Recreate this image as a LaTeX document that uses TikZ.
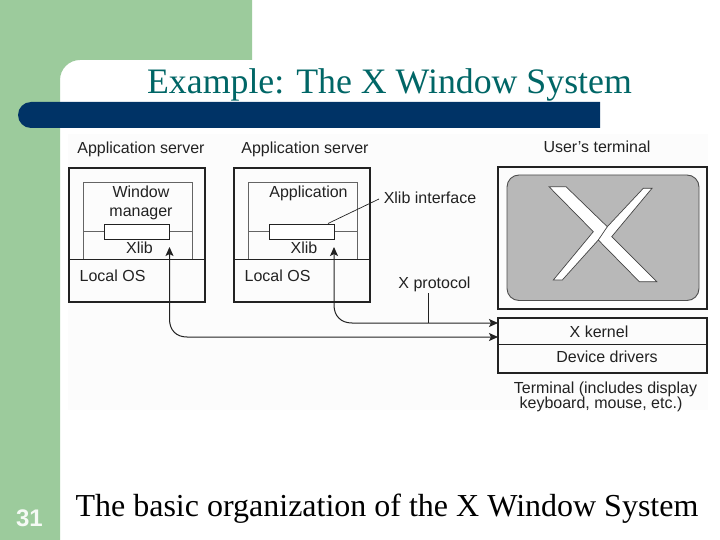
\documentclass[tikz,border=0pt]{standalone}
\usepackage{fontspec}
\setmainfont{Liberation Serif}
\setsansfont{Liberation Sans}
\usetikzlibrary{arrows.meta}
\definecolor{sidegreen}{HTML}{9CCB9C}
\definecolor{barblue}{HTML}{003366}
\definecolor{titleteal}{HTML}{006666}
\definecolor{screengrey}{HTML}{B8B8B8}
\definecolor{paper}{HTML}{FCFCFC}
\definecolor{ink}{HTML}{222222}
\tikzset{
  x=1pt,y=-1pt,
  lab/.style={font=\sffamily\fontsize{16}{15}\selectfont,text=ink,inner sep=0pt,anchor=base},
  outer/.style={draw=ink,line width=2pt},
  thin part/.style={draw=ink!70,line width=0.7pt},
  mid part/.style={draw=ink,line width=1pt},
  xbox/.style={draw=ink,line width=0.9pt,fill=white,minimum width=65pt,minimum height=14.5pt,inner sep=0pt},
  head/.tip={Stealth[length=9pt,width=8pt,inset=2pt]},
  flow/.style={draw=ink,line width=1pt,head-head},
  lead/.style={draw=ink,line width=0.7pt},
}
\begin{document}
\begin{tikzpicture}
\useasboundingbox (0,0) rectangle (720,540);
\fill[white] (0,0) rectangle (720,540);
\fill[sidegreen] (0,0) -- (252,0) -- (252,60) -- (80,60) arc[start angle=270,end angle=180,radius=20] -- (60,540) -- (0,540) -- cycle;
\fill[paper] (68,134) rectangle (708,410);
\fill[barblue] (600,102) -- (31,102) arc[start angle=270,end angle=90,radius=13] -- (600,128) -- cycle;
\node[font=\fontsize{35.8}{38}\selectfont,text=titleteal,inner sep=0pt,anchor=base] (title) at (389.5,94) {Example: The X Window System};
% application server 1
\node[lab] (as1) at (141,154) {Application server};
\draw[outer] (69,168) rectangle (205,302);
\draw[thin part] (83,259) -- (83,182) -- (192,182) -- (192,259);
\draw[thin part] (83,231) -- (104.5,231) (169.5,231) -- (192,231);
\node[xbox] (xl1) at (137,231.7) {};
\draw[mid part] (69,259.5) -- (205,259.5);
\node[lab] (wm1) at (141,197) {Window};
\node[lab] (wm2) at (141,216) {manager};
\node[lab] (xt1) at (139.5,253) {Xlib};
\node[lab,anchor=base west] (os1) at (79.5,281) {Local OS};
% application server 2
\node[lab] (as2) at (305,154) {Application server};
\draw[outer] (234,168) rectangle (370,302);
\draw[thin part] (248.5,259) -- (248.5,182) -- (357,182) -- (357,259);
\draw[thin part] (248.5,231) -- (269.5,231) (334.5,231) -- (357,231);
\node[xbox] (xl2) at (302,231.7) {};
\draw[mid part] (234,259.5) -- (370,259.5);
\node[lab] (app) at (308.5,197) {Application};
\node[lab] (xt2) at (304,253) {Xlib};
\node[lab,anchor=base west] (os2) at (244.5,281) {Local OS};
% terminal
\node[lab] (ut) at (597,152.7) {User\symbol{39}s terminal};
\draw[outer] (498,167) rectangle (707,309);
\draw[draw=ink!80,line width=0.9pt,fill=screengrey,rounded corners=12pt] (507,175) rectangle (699,300.5);
\draw[fill=white,draw=ink!85,line width=0.7pt,line join=miter] (549,186.7) -- (566,186.7) -- (607.3,226.7) -- (643.3,188.3) -- (652,188.3) -- (611.7,236.7) -- (656.7,281.7) -- (639.3,281.7) -- (598.3,240) -- (562.3,280) -- (553.3,280) -- (593.3,231.7) -- cycle;
\draw[draw=ink!85,line width=0.7pt] (607.3,226.7) -- (598.3,240);
\draw[outer] (498,318) rectangle (707,373);
\draw[mid part] (498,344) -- (707,344);
\node[lab] (xk) at (599,337) {X kernel};
\node[lab] (dd) at (607,362) {Device drivers};
\node[lab] (tm1) at (605.5,393) {Terminal (includes display};
\node[lab] (tm2) at (601,408) {keyboard, mouse, etc.)};
% labels with leaders
\node[lab] (xi) at (430,204) {Xlib interface};
\node[lab] (xp) at (434.5,288) {X protocol};
\coordinate (xiend) at (379,199);
\coordinate (xistart) at (328,223.5);
\draw[lead] (xistart) -- (xiend);
\coordinate (xpfoot) at (428,323);
\coordinate (xptop) at (428,293);
\draw[lead] (xptop) -- (xpfoot);
% protocol arrows
\coordinate (in1) at (498,337);
\coordinate (in2) at (498,323);
\coordinate (tip1) at (169.5,247);
\coordinate (tip2) at (334,247);
\draw[flow] (tip1) -- (169.5,319) .. controls (169.5,330) and (176,337) .. (187,337) -- (in1);
\draw[flow] (tip2) -- (334,305) .. controls (334,316) and (341,323) .. (352,323) -- (in2);
% bottom
\node[font=\fontsize{32}{34}\selectfont,text=black,inner sep=0pt,anchor=base] (cap) at (387,516) {The basic organization of the X Window System};
\node[font=\sffamily\bfseries\fontsize{24}{26}\selectfont,text=white!90!sidegreen,inner sep=0pt,anchor=base] (num) at (29.5,526) {31};
\end{tikzpicture}
\end{document}
